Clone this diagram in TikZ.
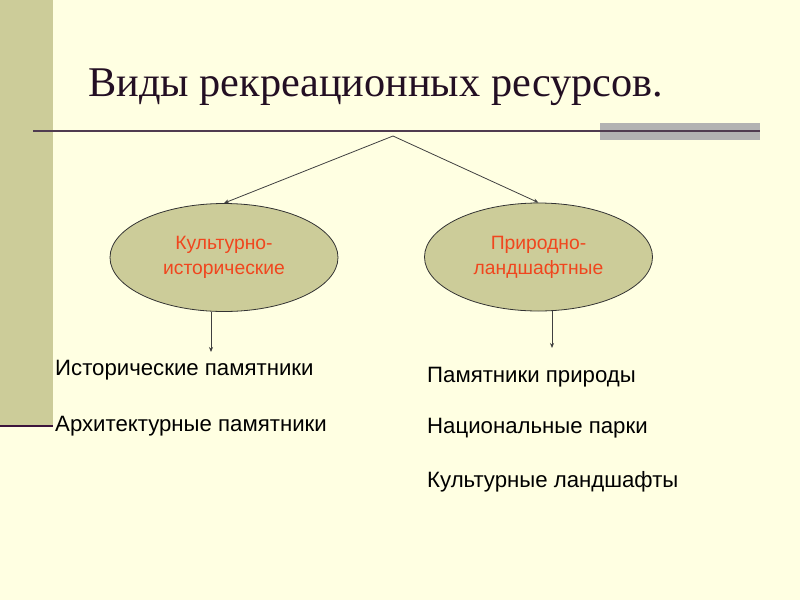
\documentclass[tikz,border=0pt]{standalone}
\usepackage{fontspec}
\setmainfont{Liberation Sans}
\newfontfamily\titlefont{Liberation Serif}
\usetikzlibrary{shapes.geometric,arrows.meta}
\definecolor{bgc}{RGB}{255,255,226}
\definecolor{olive}{RGB}{204,204,153}
\definecolor{rulec}{RGB}{80,60,80}
\definecolor{grayrect}{RGB}{178,178,178}
\definecolor{titlec}{RGB}{35,15,35}
\definecolor{redtext}{RGB}{240,70,30}
\definecolor{bandline}{RGB}{60,20,60}
\tikzset{
  oval/.style={ellipse, draw=black!80, line width=0.8pt, fill=olive, minimum width=228pt, minimum height=108pt, inner sep=0pt, align=center, text=redtext, font=\fontsize{19.3}{25}\selectfont},
  arr/.style={draw=black!75, line width=0.8pt, -{Stealth[length=5pt,width=4pt]}},
  item/.style={anchor=base west, inner sep=0pt, font=\fontsize{22.2}{26}\selectfont, text=black}
}
\begin{document}
\begin{tikzpicture}[x=1pt,y=-1pt]
\useasboundingbox (0,0) rectangle (800,600);
\fill[bgc] (0,0) rectangle (800,600);
\fill[olive] (0,0) rectangle (53,425);
\fill[bandline] (0,424.5) rectangle (53,427);
\fill[grayrect] (600,123) rectangle (760,140);
\draw[rulec, line width=2pt] (33,131) -- (760,131);
\node[anchor=base west, inner sep=0pt, text=titlec, font=\titlefont\fontsize{42.3}{48}\selectfont] (title) at (88,96) {Виды рекреационных ресурсов.};
\node[oval] (left) at (224,257.5) {Культурно-\\исторические};
\node[oval] (right) at (538.5,257) {Природно-\\ландшафтные};
\coordinate (apex) at (393,136);
\draw[arr] (apex) -- (left.north);
\draw[arr] (apex) -- (right.north);
\coordinate (la) at (211,352);
\coordinate (ra) at (552,348);
\draw[arr] (la |- left.south) -- (la);
\draw[arr] (ra |- right.south) -- (ra);
\node[item] (i1) at (55,375) {Исторические памятники};
\node[item] (i2) at (55,431) {Архитектурные памятники};
\node[item] (i3) at (427,382) {Памятники природы};
\node[item] (i4) at (427,433) {Национальные парки};
\node[item] (i5) at (427,487) {Культурные ландшафты};
\end{tikzpicture}
\end{document}
